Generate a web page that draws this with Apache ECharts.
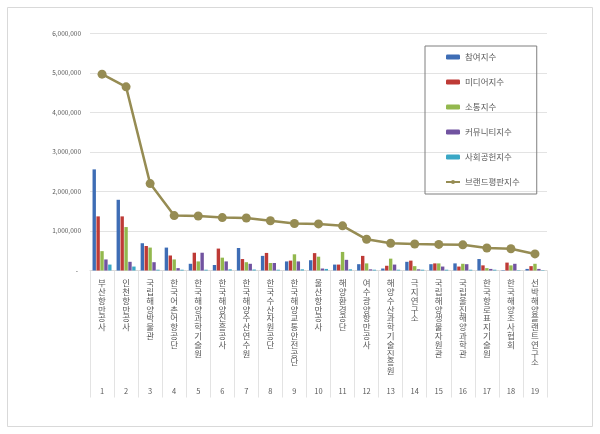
<!DOCTYPE html>
<html>
<head>
<meta charset="utf-8">
<script src="https://cdn.jsdelivr.net/npm/echarts@6/dist/echarts.min.js"></script>
<style>
  html, body { margin: 0; padding: 0; background: #fff; }
  #chart { width: 600px; height: 434px; }
</style>
</head>
<body>
<div id="chart"></div>
<script>
const categories = [
  '부산항만공사', '인천항만공사', '국립해양박물관', '한국어촌어항공단', '한국해양과학기술원',
  '한국해양진흥공사', '한국해양수산연수원', '한국수산자원공단', '한국해양교통안전공단', '울산항만공사',
  '해양환경공단', '여수광양항만공사', '해양수산과학기술진흥원', '극지연구소', '국립해양생물자원관',
  '국립울진해양과학관', '한국항로표지기술원', '한국해양조사협회', '선박해양플랜트연구소'
]
const ranks = categories.map((c, i) => String(i + 1))
const yTicks = [0, 1000000, 2000000, 3000000, 4000000, 5000000, 6000000]

// 참여지수
const participation = [2560000, 1790000, 690000, 580000, 170000, 140000, 570000, 370000, 230000, 260000,
  150000, 160000, 50000, 220000, 160000, 180000, 290000, 10000, 40000]
// 미디어지수
const media = [1370000, 1370000, 620000, 380000, 450000, 555000, 290000, 445000, 250000, 440000,
  150000, 370000, 120000, 250000, 180000, 100000, 130000, 200000, 110000]
// 소통지수
const communication = [490000, 1100000, 580000, 280000, 230000, 325000, 210000, 190000, 410000, 350000,
  470000, 180000, 300000, 110000, 180000, 170000, 60000, 130000, 170000]
// 커뮤니티지수
const community = [280000, 220000, 210000, 60000, 450000, 230000, 170000, 190000, 230000, 50000,
  270000, 30000, 150000, 30000, 100000, 160000, 40000, 170000, 40000]
// 사회공헌지수
const social = [150000, 100000, 20000, 20000, 20000, 30000, 25000, 20000, 30000, 40000,
  30000, 20000, 20000, 20000, 20000, 20000, 20000, 10000, 10000]
// 브랜드평판지수
const brand = [4970000, 4650000, 2200000, 1390000, 1380000, 1340000, 1330000, 1260000, 1190000, 1180000,
  1130000, 790000, 690000, 670000, 660000, 650000, 570000, 550000, 420000]

const barNames = ['참여지수', '미디어지수', '소통지수', '커뮤니티지수', '사회공헌지수']
const barData = [participation, media, communication, community, social]
const barColors = ['#3E6DB5', '#BE3A36', '#93B84E', '#7153A0', '#3AA7C5']
const lineName = '브랜드평판지수'
const lineColor = '#968C53'

const textColor = '#595959'
const font = '"Noto Sans CJK KR", "Noto Sans", sans-serif'

const barSeries = barNames.map((name, i) => ({
  name,
  type: 'bar',
  barGap: '15%',
  barCategoryGap: '21%',
  itemStyle: { color: barColors[i] },
  data: barData[i]
}))

const option = {
  backgroundColor: '#fff',
  animation: false,
  textStyle: { fontFamily: font },
  graphic: [{
    type: 'rect',
    shape: { x: 7.5, y: 7.5, width: 585, height: 419 },
    style: { fill: 'none', stroke: '#d9d9d9', lineWidth: 1 },
    silent: true
  }],
  legend: {
    orient: 'vertical',
    left: 425,
    top: 46,
    padding: [5, 17, 6, 20],
    itemGap: 13,
    itemWidth: 14,
    itemHeight: 5,
    borderColor: '#7f7f7f',
    borderWidth: 1,
    textStyle: { color: textColor, fontSize: 8.5, lineHeight: 12, fontFamily: font },
    data: [...barNames, lineName]
  },
  grid: {
    left: 90,
    right: 53,
    top: 33.5,
    bottom: 163.5
  },
  xAxis: [{
    type: 'category',
    data: categories,
    axisLine: { lineStyle: { color: '#d9d9d9' } },
    axisTick: { show: true, length: 127, interval: 0, lineStyle: { color: '#e3e3e3' } },
    axisLabel: {
      interval: 0,
      margin: 8,
      color: textColor,
      fontSize: 8.5,
      lineHeight: 8.8,
      fontFamily: font,
      formatter: (v) => v.split('').join('\n')
    }
  }, {
    type: 'category',
    position: 'bottom',
    offset: 114,
    data: ranks,
    axisLine: { show: false },
    axisTick: { show: false },
    axisLabel: { interval: 0, margin: 3, color: textColor, fontSize: 7.5, fontFamily: font }
  }],
  yAxis: {
    type: 'value',
    min: yTicks[0],
    max: yTicks[yTicks.length - 1],
    interval: 1000000,
    axisLine: { show: false },
    axisTick: { show: false },
    splitLine: { lineStyle: { color: '#e3e3e3' } },
    axisLabel: {
      margin: 9,
      color: textColor,
      fontSize: 6.5,
      fontFamily: font,
      formatter: (v) => v === 0 ? '-  ' : v.toLocaleString('en-US')
    }
  },
  series: [...barSeries, {
    name: lineName,
    type: 'line',
    symbol: 'circle',
    symbolSize: 9,
    z: 5,
    lineStyle: { color: lineColor, width: 2.5 },
    itemStyle: { color: lineColor },
    data: brand
  }]
}

const chart = echarts.init(document.getElementById('chart'))
chart.setOption(option)
</script>
</body>
</html>
